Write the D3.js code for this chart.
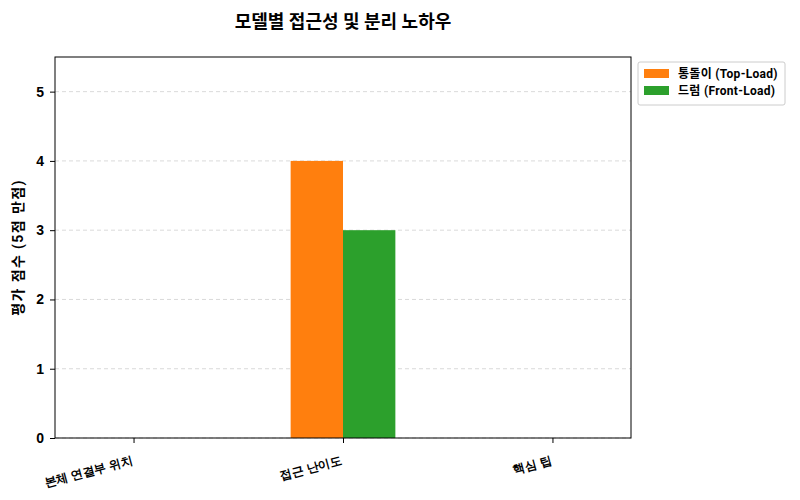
<!DOCTYPE html>
<html lang="ko">
<head>
    <meta charset="UTF-8">
    <title>모델별 접근성 및 분리 노하우</title>
    <script src="https://cdnjs.cloudflare.com/ajax/libs/d3/7.8.0/d3.min.js"></script>
    <style>
        body { margin: 0; background: #fff; }
        svg { font-family: Roboto, "Noto Sans CJK KR", sans-serif; }
    </style>
</head>
<body>
<svg id="viz" width="800" height="500"></svg>
<script>
    // data
    const categories = ["본체 연결부 위치", "접근 난이도", "핵심 팁"];
    const seriesNames = ["통돌이 (Top-Load)", "드럼 (Front-Load)"];
    const topLoad = [0, 4, 0];
    const frontLoad = [0, 3, 0];
    const yTicks = [0, 1, 2, 3, 4, 5];
    const colors = ["#ff7f0e", "#2ca02c"];

    const svg = d3.select("#viz");
    const m = {left: 55, right: 631, top: 57, bottom: 438};
    const barW = 0.25;

    const x = d3.scaleLinear().domain([-0.375, 2.375]).range([m.left, m.right]);
    const y = d3.scaleLinear().domain([0, 5.5]).range([m.bottom, m.top]);

    // grid
    svg.append("g").selectAll("line").data(yTicks).join("line")
        .attr("x1", m.left).attr("x2", m.right)
        .attr("y1", d => y(d)).attr("y2", d => y(d))
        .attr("stroke", "#d0d0d0").attr("stroke-dasharray", "4,3").attr("stroke-width", 0.8);

    // bars
    const series = [topLoad, frontLoad];
    series.forEach((vals, s) => {
        svg.append("g").selectAll("rect").data(vals).join("rect")
            .attr("x", (d, i) => x(i + (s - 1) * barW))
            .attr("width", x(barW) - x(0))
            .attr("y", d => y(d))
            .attr("height", d => y(0) - y(d))
            .attr("fill", colors[s]);
    });

    // axes
    const yAxis = svg.append("g").attr("transform", `translate(${m.left},0)`)
        .call(d3.axisLeft(y).tickValues(yTicks).tickSize(5).tickPadding(6).tickFormat(d3.format("d")));
    yAxis.selectAll("text").attr("font-size", 14).attr("font-weight", "bold").attr("fill", "#000");
    yAxis.select(".domain").remove();

    const xAxis = svg.append("g").attr("transform", `translate(0,${m.bottom})`)
        .call(d3.axisBottom(x).tickValues([0, 1, 2]).tickSize(5).tickFormat(i => categories[i]));
    xAxis.select(".domain").remove();
    xAxis.selectAll("text")
        .attr("font-size", 12).attr("font-weight", "bold").attr("fill", "#000")
        .attr("text-anchor", "end")
        .attr("dy", "0.35em")
        .attr("transform", "translate(-4,14) rotate(-15)");

    // frame
    svg.append("rect").attr("x", m.left).attr("y", m.top)
        .attr("width", m.right - m.left).attr("height", m.bottom - m.top)
        .attr("fill", "none").attr("stroke", "#000").attr("stroke-width", 1);

    // title
    svg.append("text").attr("x", 343).attr("y", 28).attr("text-anchor", "middle")
        .attr("font-size", 18).attr("font-weight", "bold").text("모델별 접근성 및 분리 노하우");

    // y label
    svg.append("text").attr("transform", `translate(23,${(m.top + m.bottom) / 2}) rotate(-90)`)
        .attr("text-anchor", "middle").attr("font-size", 14).attr("font-weight", "bold")
        .attr("letter-spacing", 1.4)
        .text("평가 점수 (5점 만점)");

    // legend
    const lg = svg.append("g").attr("transform", "translate(638,62)");
    lg.append("rect").attr("width", 147).attr("height", 43).attr("rx", 2)
        .attr("fill", "#fff").attr("stroke", "#ccc");
    seriesNames.forEach((n, i) => {
        lg.append("rect").attr("x", 6).attr("y", 7 + i * 17).attr("width", 25).attr("height", 9).attr("fill", colors[i]);
        lg.append("text").attr("x", 40).attr("y", 16 + i * 17)
            .attr("font-size", 12).attr("font-weight", "bold").attr("letter-spacing", 0.3).text(n);
    });
</script>
</body>
</html>
